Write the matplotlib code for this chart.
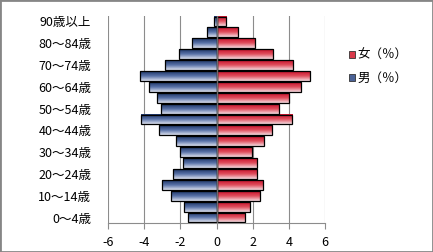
import numpy as np
import matplotlib
matplotlib.use('Agg')
import matplotlib.pyplot as plt
from matplotlib.patches import Patch, Rectangle
from matplotlib.colors import LinearSegmentedColormap

plt.rcParams['font.family'] = ['Noto Sans CJK JP', 'DejaVu Sans']

# --- data ---
age_groups = ['0～4歳', '5～9歳', '10～14歳', '15～19歳', '20～24歳', '25～29歳',
              '30～34歳', '35～39歳', '40～44歳', '45～49歳', '50～54歳', '55～59歳',
              '60～64歳', '65～69歳', '70～74歳', '75～79歳', '80～84歳', '85～89歳',
              '90歳以上']
male_pct = [1.55, 1.82, 2.49, 3.04, 2.39, 1.88, 2.04, 2.24, 3.20, 4.20,
            3.09, 3.31, 3.76, 4.25, 2.87, 2.08, 1.33, 0.50, 0.15]
female_pct = [1.60, 1.87, 2.43, 2.57, 2.26, 2.26, 1.95, 2.60, 3.08, 4.20,
              3.48, 4.00, 4.70, 5.19, 4.25, 3.15, 2.15, 1.20, 0.50]
x_ticks = [-6, -4, -2, 0, 2, 4, 6]
label_male = '男（％）'
label_female = '女（％）'

# --- style ---
blue_cmap = LinearSegmentedColormap.from_list('b', ['#1c3466', '#5a73a8', '#dde1ef'])
red_cmap = LinearSegmentedColormap.from_list('r', ['#c8102a', '#e0505f', '#f6dde2'])
grid_col = '#8c8c8c'

fig = plt.figure(figsize=(4.33, 2.52), dpi=100)
ax = fig.add_axes([108 / 433, 1 - 223 / 252, 217 / 433, 207 / 252])

y = np.arange(len(age_groups))
bar_h = 0.9
gradient = np.linspace(0, 1, 64).reshape(-1, 1)

male_bars = ax.barh(y, -np.array(male_pct), height=bar_h, facecolor='none',
                    edgecolor='black', linewidth=0.9, zorder=3)
female_bars = ax.barh(y, female_pct, height=bar_h, facecolor='none',
                      edgecolor='black', linewidth=0.9, zorder=3)

# gradient fill inside each bar
for bars, cmap in ((male_bars, blue_cmap), (female_bars, red_cmap)):
    for b in bars:
        x0, y0 = b.get_x(), b.get_y()
        w, h = b.get_width(), b.get_height()
        ax.imshow(gradient, cmap=cmap, aspect='auto', interpolation='bilinear',
                  extent=(x0, x0 + w, y0, y0 + h), origin='upper', zorder=2)

ax.axvline(0, color='#6e6e6e', linewidth=1.0, zorder=4)

ax.set_xlim(-6, 6)
ax.set_ylim(-0.5, len(age_groups) - 0.5)
ax.set_xticks(x_ticks)
ax.set_xticklabels([str(t) for t in x_ticks], fontsize=9)
ax.set_yticks(y[::2])
ax.set_yticklabels(age_groups[::2], fontsize=9)
ax.tick_params(axis='y', length=0, pad=12)
ax.tick_params(axis='x', length=4, color=grid_col, pad=5)

ax.grid(axis='x', color=grid_col, linewidth=0.8, zorder=0)
ax.set_axisbelow(True)
for side in ('top', 'right', 'left'):
    ax.spines[side].set_visible(False)
ax.spines['bottom'].set_color(grid_col)
ax.spines['bottom'].set_linewidth(0.8)

handles = [Patch(facecolor='#d9394a', edgecolor='#333333', linewidth=0.6, label=label_female),
           Patch(facecolor='#4a6296', edgecolor='#333333', linewidth=0.6, label=label_male)]
fig.legend(handles=handles, loc='upper left', bbox_to_anchor=(349 / 433, 1 - 49 / 252),
           frameon=False, fontsize=9, handlelength=0.5, handleheight=0.5,
           handletextpad=0.2, labelspacing=0.8, borderaxespad=0, borderpad=0)

fig.patches.append(Rectangle((0, 0), 1, 1, transform=fig.transFigure, fill=False,
                             edgecolor='#868686', linewidth=2))

fig.savefig('out.png', dpi=100)
